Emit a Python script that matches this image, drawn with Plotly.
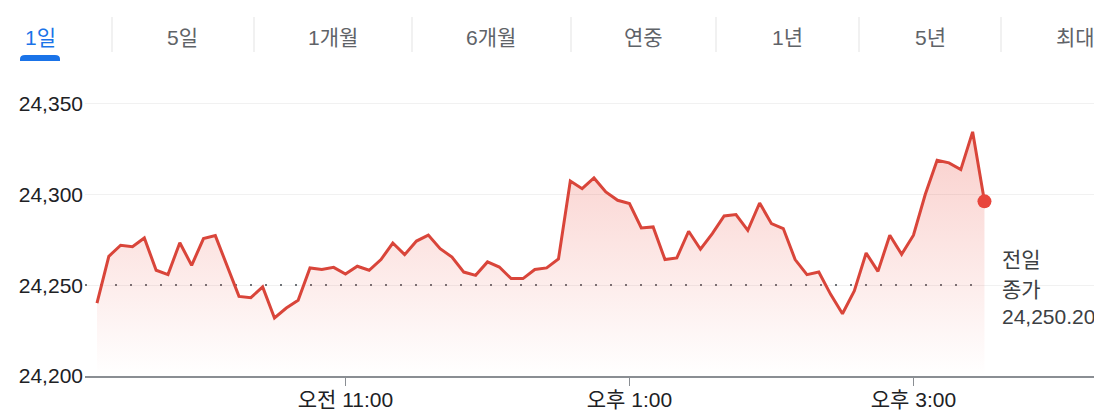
import plotly.graph_objects as go
import pandas as pd

# 5분 간격 지수 값 (09:15 ~ 15:30)
values = [
    24240.2, 24266.0, 24272.1, 24271.3, 24276.1, 24258.3, 24255.9, 24273.5,
    24261.0, 24275.8, 24277.4, 24260.6, 24243.9, 24243.2, 24249.1, 24232.0,
    24237.5, 24241.7, 24259.6, 24258.7, 24259.9, 24256.2, 24260.5, 24258.3,
    24264.2, 24273.3, 24266.9, 24274.4, 24277.7, 24270.2, 24265.6, 24257.3,
    24255.5, 24262.9, 24260.1, 24253.7, 24253.7, 24258.7, 24259.6, 24264.5,
    24307.5, 24303.3, 24309.2, 24301.5, 24296.9, 24295.1, 24281.6, 24282.2,
    24264.2, 24265.1, 24279.8, 24269.9, 24278.5, 24288.2, 24289.0, 24280.3,
    24295.4, 24284.0, 24281.3, 24264.2, 24255.9, 24257.3, 24245.0, 24234.3,
    24246.9, 24267.8, 24257.7, 24277.6, 24267.1, 24277.6, 24300.2, 24318.9,
    24317.5, 24313.8, 24334.6, 24296.3,
]
prev_close = 24250.20
prev_close_label = ["전일", "종가", "24,250.20"]
tabs = ["1일", "5일", "1개월", "6개월", "연중", "1년", "5년", "최대"]
tick_times = ["2024-11-05 11:00", "2024-11-05 13:00", "2024-11-05 15:00"]
tick_labels = ["오전 11:00", "오후 1:00", "오후 3:00"]
y_ticks = [24200, 24250, 24300, 24350]

times = pd.date_range("2024-11-05 09:15", periods=len(values), freq="5min")
x_start = pd.Timestamp("2024-11-05 09:09:56")
x_end = pd.Timestamp("2024-11-05 16:19:40")

FONT = "Arial, 'Liberation Sans', 'Noto Sans CJK KR', sans-serif"
RED = "#d9453a"

# page sits 8px in from the window corner; plot area in window pixels:
# left 85, right 1102, top 80, bottom 376
def px_x(p):
    return (p - 85) / 1017


def px_y(p):
    return (376 - p) / 296


fig = go.Figure()

fig.add_trace(go.Scatter(
    x=[x_start, times[-1]], y=[prev_close, prev_close], mode="lines",
    line=dict(color="#6f7378", width=2, dash="2px,13px"),
    hoverinfo="skip", showlegend=False,
))
fig.add_trace(go.Scatter(
    x=times, y=[y_ticks[0]] * len(times), mode="lines",
    line=dict(width=0), hoverinfo="skip", showlegend=False,
))
fig.add_trace(go.Scatter(
    x=times, y=values, mode="lines", fill="tonexty",
    fillgradient=dict(
        type="vertical", start=y_ticks[0], stop=max(values),
        colorscale=[[0, "rgba(234,67,53,0.0)"], [1, "rgba(234,67,53,0.26)"]],
    ),
    line=dict(color=RED, width=3), showlegend=False,
))
fig.add_trace(go.Scatter(
    x=[times[-1]], y=[values[-1]], mode="markers",
    marker=dict(color="#e8453c", size=14), showlegend=False,
))

# 기간 탭
tab_centers = [40, 182, 333, 491, 643, 787, 930, 1075]
separators = [112, 254, 412, 571, 716, 859, 1001]
for i, (t, cx) in enumerate(zip(tabs, tab_centers)):
    fig.add_annotation(
        text=t, x=px_x(cx), y=px_y(37), xref="paper", yref="paper",
        showarrow=False, xanchor="center", yanchor="middle",
        font=dict(size=21, color="#1a73e8" if i == 0 else "#5f6368", family=FONT),
    )
for sx in separators:
    fig.add_shape(type="line", xref="paper", yref="paper",
                  x0=px_x(sx), x1=px_x(sx), y0=px_y(17), y1=px_y(52),
                  line=dict(color="#e3e3e3", width=1))
fig.add_shape(
    type="path", xref="paper", yref="paper",
    xsizemode="pixel", ysizemode="pixel",
    xanchor=px_x(20), yanchor=px_y(61),
    path="M0,0 L40,0 L40,2 Q40,6 35,6 L5,6 Q0,6 0,2 Z",
    fillcolor="#1a73e8", line=dict(width=0),
)

# 전일 종가 라벨
for txt, py in zip(prev_close_label, [259, 289, 316]):
    fig.add_annotation(
        text=txt, x=px_x(1000), y=px_y(py), xref="paper", yref="paper",
        showarrow=False, xanchor="left", yanchor="middle",
        font=dict(size=21, color="#3c4043", family=FONT),
    )

fig.update_layout(
    width=1094, height=410,
    margin=dict(l=77, r=0, t=72, b=42),
    paper_bgcolor="white", plot_bgcolor="white",
    font=dict(family=FONT),
    xaxis=dict(
        range=[x_start, x_end], showgrid=False, zeroline=False,
        showline=True, linecolor="#8a8e93", linewidth=2,
        tickvals=tick_times, ticktext=tick_labels,
        ticks="outside", ticklen=8, tickwidth=1, tickcolor="#8a8e93",
        ticklabelstandoff=-4,
        tickfont=dict(size=21, color="#202124", family=FONT),
    ),
    yaxis=dict(
        range=[24200, 24363.2], tickvals=y_ticks,
        tickformat=",d", showgrid=True, gridcolor="#f1f1f1", gridwidth=1,
        zeroline=False, ticks="", ticklabelstandoff=1,
        tickfont=dict(size=21, color="#202124", family=FONT),
    ),
)

fig.write_html("out.html")
